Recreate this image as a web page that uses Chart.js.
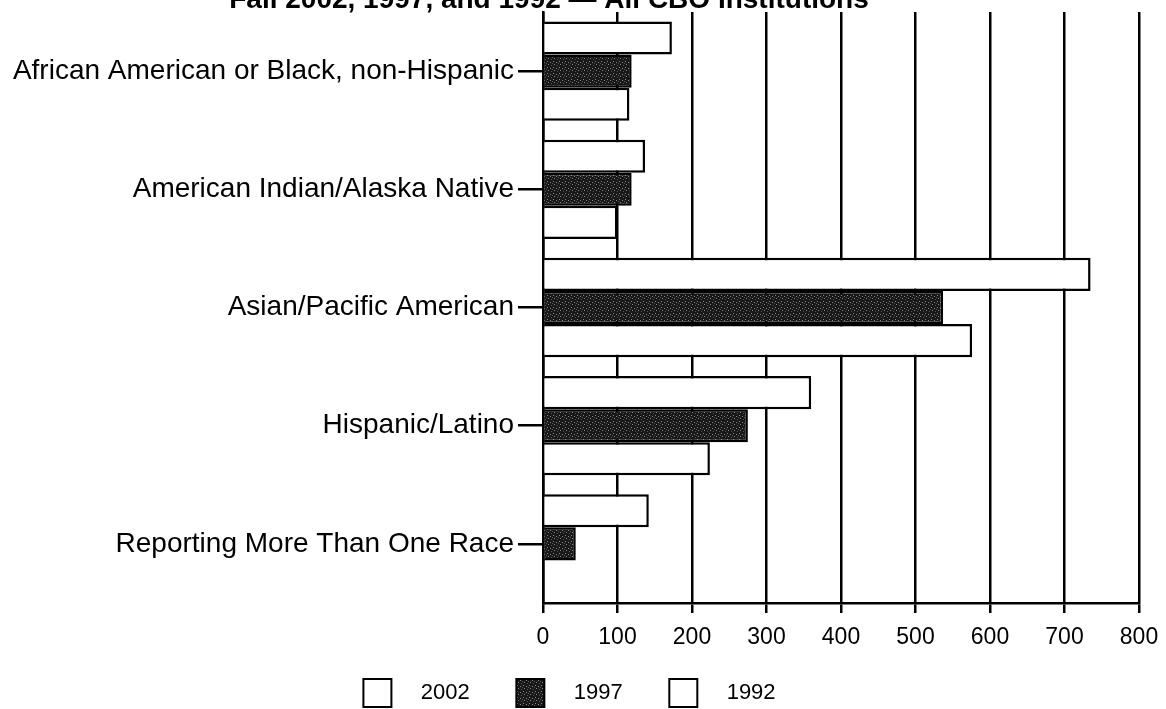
<!DOCTYPE html>
<html>
<head>
<meta charset="utf-8">
<script src="https://cdn.jsdelivr.net/npm/chart.js@4.4.0/dist/chart.umd.min.js"></script>
<style>
  html, body { margin: 0; padding: 0; background: #fff; overflow: hidden; }
  #wrap { position: relative; width: 1166px; height: 717px; }
</style>
</head>
<body>
<div id="wrap"><canvas id="chart"></canvas></div>
<script>
// ---- Data ----
var titleText = 'Fall 2002, 1997, and 1992 \u2014 All CBO Institutions';
var categories = [
  'African American or Black, non-Hispanic',
  'American Indian/Alaska Native',
  'Asian/Pacific American',
  'Hispanic/Latino',
  'Reporting More Than One Race'
];
var years = ['2002', '1997', '1992'];
var values2002 = [173, 137, 735, 360, 142];
var values1997 = [119, 119, 537, 275, 44];
var values1992 = [116, 100, 576, 224, null];
var xTicks = [0, 100, 200, 300, 400, 500, 600, 700, 800];

var FONT = "'Liberation Sans', Arial, sans-serif";

// dark stippled fill used for 1997
function makeStipple() {
  var c = document.createElement('canvas');
  c.width = 6; c.height = 6;
  var g = c.getContext('2d');
  g.fillStyle = '#181818';
  g.fillRect(0, 0, 6, 6);
  g.fillStyle = '#8a8a8a';
  g.fillRect(1, 1, 1, 1);
  g.fillRect(4, 2, 1, 1);
  g.fillRect(2, 4, 1, 1);
  g.fillStyle = '#555';
  g.fillRect(5, 5, 1, 1);
  g.fillRect(0, 3, 1, 1);
  return g.createPattern(c, 'repeat');
}
var stipple = makeStipple();

var titlePlugin = {
  id: 'scanTitle',
  afterDraw: function(chart) {
    var ctx = chart.ctx;
    ctx.save();
    ctx.font = 'bold 28px ' + FONT;
    ctx.fillStyle = '#000';
    ctx.textAlign = 'center';
    ctx.textBaseline = 'alphabetic';
    ctx.fillText(titleText, 549, 8);
    ctx.restore();
  }
};

var ctx = document.getElementById('chart').getContext('2d');
var chart = new Chart(ctx, {
  type: 'bar',
  data: {
    labels: categories,
    datasets: [
      { label: years[0], data: values2002, backgroundColor: '#fff', borderColor: '#000', borderWidth: 2.5 },
      { label: years[1], data: values1997, backgroundColor: stipple, borderColor: '#000', borderWidth: 2.5 },
      { label: years[2], data: values1992, backgroundColor: '#fff', borderColor: '#000', borderWidth: 2.5 }
    ]
  },
  options: {
    indexAxis: 'y',
    responsive: true, maintainAspectRatio: false,
    animation: false,
    categoryPercentage: 0.84, barPercentage: 1.0,
    layout: { padding: { top: 12, right: 27, left: 0, bottom: 0 } },
    plugins: {
      legend: {
        position: 'bottom',
        labels: {
          color: '#000', boxWidth: 28, boxHeight: 28, padding: 10,
          font: { family: FONT, size: 22 },
          generateLabels: function(ch) {
            var n = ch.data.datasets.length;
            return ch.data.datasets.map(function(ds, i) {
              return {
                text: '   ' + ds.label + (i < n - 1 ? '      ' : ''),
                fillStyle: ds.backgroundColor,
                strokeStyle: '#000',
                lineWidth: 2,
                hidden: false,
                datasetIndex: i
              };
            });
          }
        }
      },
      tooltip: { enabled: false }
    },
    scales: {
      x: {
        min: 0, max: 800,
        afterBuildTicks: function(scale) { scale.ticks = xTicks.map(function(v) { return { value: v }; }); },
        afterFit: function(scale) { scale.height = 66; scale.paddingLeft = 0; scale.paddingRight = 0; },
        grid: { color: '#000', lineWidth: 2.5, tickLength: 10, drawTicks: true },
        border: { display: true, color: '#000', width: 2.5 },
        ticks: { color: '#000', padding: 11, font: { family: FONT, size: 23 } }
      },
      y: {
        afterFit: function(scale) { scale.width = 543; scale.paddingTop = 0; scale.paddingBottom = 0; },
        grid: { drawOnChartArea: false, offset: false, color: '#000', lineWidth: 2.5, tickLength: 25 },
        border: { display: true, color: '#000', width: 2.5 },
        ticks: { color: '#000', padding: 4, font: { family: FONT, size: 28 } }
      }
    }
  },
  plugins: [titlePlugin]
});
</script>
</body>
</html>
